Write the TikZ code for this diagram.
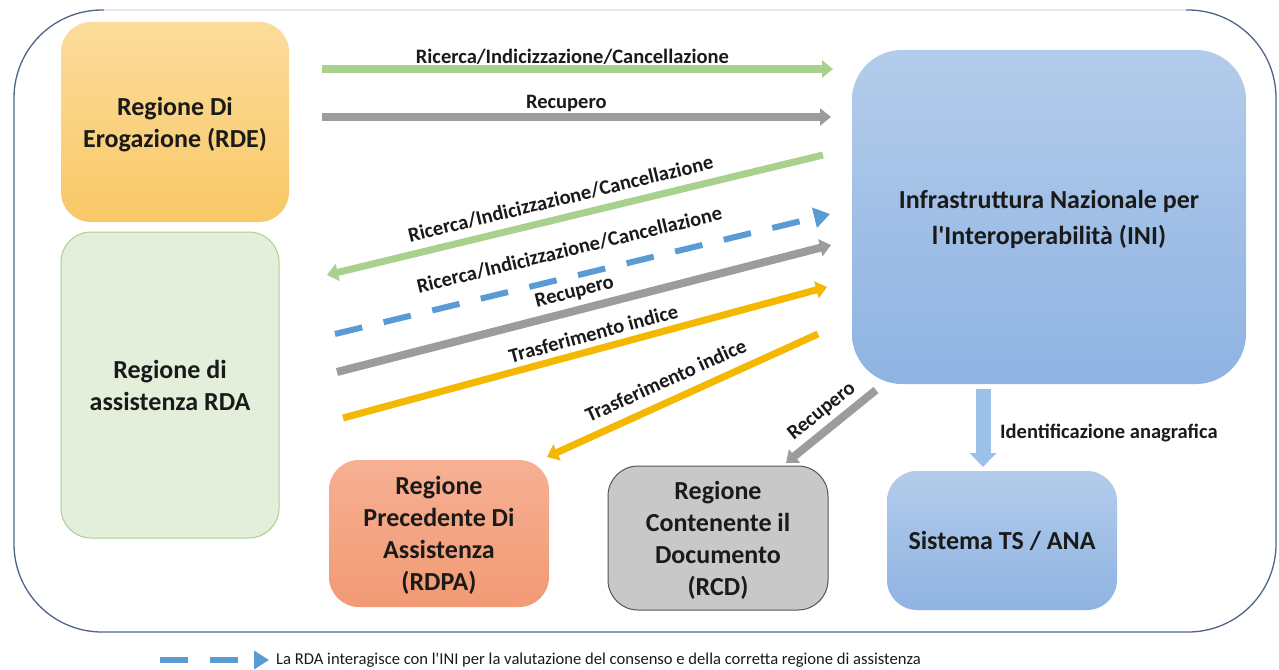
\documentclass[tikz,border=0pt]{standalone}
\usepackage{fontspec}
\setmainfont{Carlito}
\usetikzlibrary{arrows.meta}
\definecolor{txt}{HTML}{1A1A1A}
\definecolor{framec}{HTML}{4F6488}
\definecolor{frametop}{HTML}{E4E8EE}
\definecolor{rdetop}{HTML}{FCDC9C}
\definecolor{rdebot}{HTML}{F8C866}
\definecolor{rdafill}{HTML}{E3EFDA}
\definecolor{rdaline}{HTML}{A9D18E}
\definecolor{initop}{HTML}{B3CCEB}
\definecolor{inibot}{HTML}{8FB3E2}
\definecolor{rdpatop}{HTML}{F6B093}
\definecolor{rdpabot}{HTML}{F29A74}
\definecolor{rcdfill}{HTML}{C8C8C8}
\definecolor{rcdline}{HTML}{555555}
\definecolor{greenar}{HTML}{A9D18E}
\definecolor{grayar}{HTML}{9C9C9C}
\definecolor{orangear}{HTML}{F5B800}
\definecolor{bluedash}{HTML}{5B9BD5}
\definecolor{bluear}{HTML}{9DC0E8}
\begin{document}
\begin{tikzpicture}[x=1pt,y=-1pt,
  box/.style={rounded corners=30pt, align=center, text=txt, text depth=0pt,
    font=\fontsize{26}{32}\selectfont\bfseries, inner sep=0pt},
  arr/.style={line width=7pt, -{Triangle[length=11pt,width=17pt]}},
  lbl/.style={font=\fontsize{20.5}{22}\selectfont\bfseries, text=txt, sloped, inner sep=1pt},
]
\useasboundingbox (0,0) rectangle (1279,669);
\fill[white] (0,0) rectangle (1279,669);
% frame
\draw[framec, line width=1.3pt, rounded corners=88pt] (14,10) rectangle (1276,632);
\draw[frametop, line width=2pt] (104,10) -- (1186,10);

% boxes
\node[box, minimum width=228pt, minimum height=200pt, top color=rdetop, bottom color=rdebot] (rde) at (175,122) {Regione Di\\Erogazione (RDE)};
\node[box, minimum width=218pt, minimum height=306pt, fill=rdafill, draw=rdaline, line width=1pt] (rda) at (170,385) {Regione di\\assistenza RDA};
\node[box, rounded corners=50pt, minimum width=394pt, minimum height=334pt, top color=initop, bottom color=inibot, font=\fontsize{26}{36}\selectfont\bfseries] (ini) at (1049,217) {Infrastruttura Nazionale per\\l\textquotesingle Interoperabilità (INI)};
\node[box, minimum width=220pt, minimum height=147pt, top color=rdpatop, bottom color=rdpabot] (rdpa) at (439,533.5) {Regione\\Precedente Di\\Assistenza\\(RDPA)};
\node[box, minimum width=220pt, minimum height=144pt, fill=rcdfill, draw=rcdline, line width=1pt] (rcd) at (718,538) {Regione\\Contenente il\\Documento\\(RCD)};
\node[box, minimum width=230pt, minimum height=139pt, top color=initop, bottom color=inibot] (ts) at (1002,540.5) {Sistema TS / ANA};

% arrow endpoints
\coordinate (g1s) at (322,69);  \coordinate (g1e) at (833,69);
\coordinate (r1s) at (322,117); \coordinate (r1e) at (831,117);
\coordinate (g2s) at (823,155); \coordinate (g2e) at (327,275);
\coordinate (ds) at (335,334);  \coordinate (de) at (830,214);
\coordinate (gs) at (337,372);  \coordinate (ge) at (831,245);
\coordinate (os) at (343,418);  \coordinate (oe) at (827,287);
\coordinate (o2s) at (818,334); \coordinate (o2e) at (547,457);
\coordinate (rs) at (876,390);  \coordinate (re) at (786,463);
\coordinate (bs) at (983,389);  \coordinate (be) at (983,467);

\draw[arr, greenar] (g1s) -- node[lbl, above=0.5pt, pos=0.49] {Ricerca/Indicizzazione/Cancellazione} (g1e);
\draw[arr, grayar, line width=8pt] (r1s) -- node[lbl, above=0pt, pos=0.48] {Recupero} (r1e);
\draw[arr, greenar] (g2s) -- node[lbl, above=7pt, pos=0.52] {Ricerca/Indicizzazione/Cancellazione} (g2e);
\draw[line width=6pt, bluedash, dash pattern=on 28pt off 22pt, -{Triangle[length=16pt,width=20pt]}] (ds) -- node[lbl, above=15pt, pos=0.486] {Ricerca/Indicizzazione/Cancellazione} (de);
\draw[arr, grayar, line width=8pt] (gs) -- node[lbl, above=4.5pt, pos=0.49] {Recupero} (ge);
\draw[arr, orangear] (os) -- node[lbl, above=4.5pt, pos=0.526] {Trasferimento indice} (oe);
\draw[arr, orangear] (o2s) -- node[lbl, above=9pt, pos=0.53] {Trasferimento indice} (o2e);
\draw[arr, grayar, line width=8pt] (rs) -- node[lbl, above=4pt, pos=0.48] {Recupero} (re);
\draw[line width=15pt, bluear, -{Triangle[length=14pt,width=26pt]}] (bs) -- (be);
\node[font=\fontsize{20.5}{22}\selectfont\bfseries, text=txt, anchor=west, inner sep=0pt] (idl) at (1000,433) {Identificazione anagrafica};

% legend
\coordinate (ls) at (160,660); \coordinate (le) at (269,660);
\draw[line width=6pt, bluedash, dash pattern=on 28pt off 22pt, -{Triangle[length=15pt,width=18pt]}] (ls) -- (le);
\node[font=\fontsize{16.6}{18}\selectfont, text=txt, anchor=west, inner sep=0pt] (leg) at (276,660) {La RDA interagisce con l\textquotesingle INI per la valutazione del consenso e della corretta regione di assistenza};
\end{tikzpicture}
\end{document}
